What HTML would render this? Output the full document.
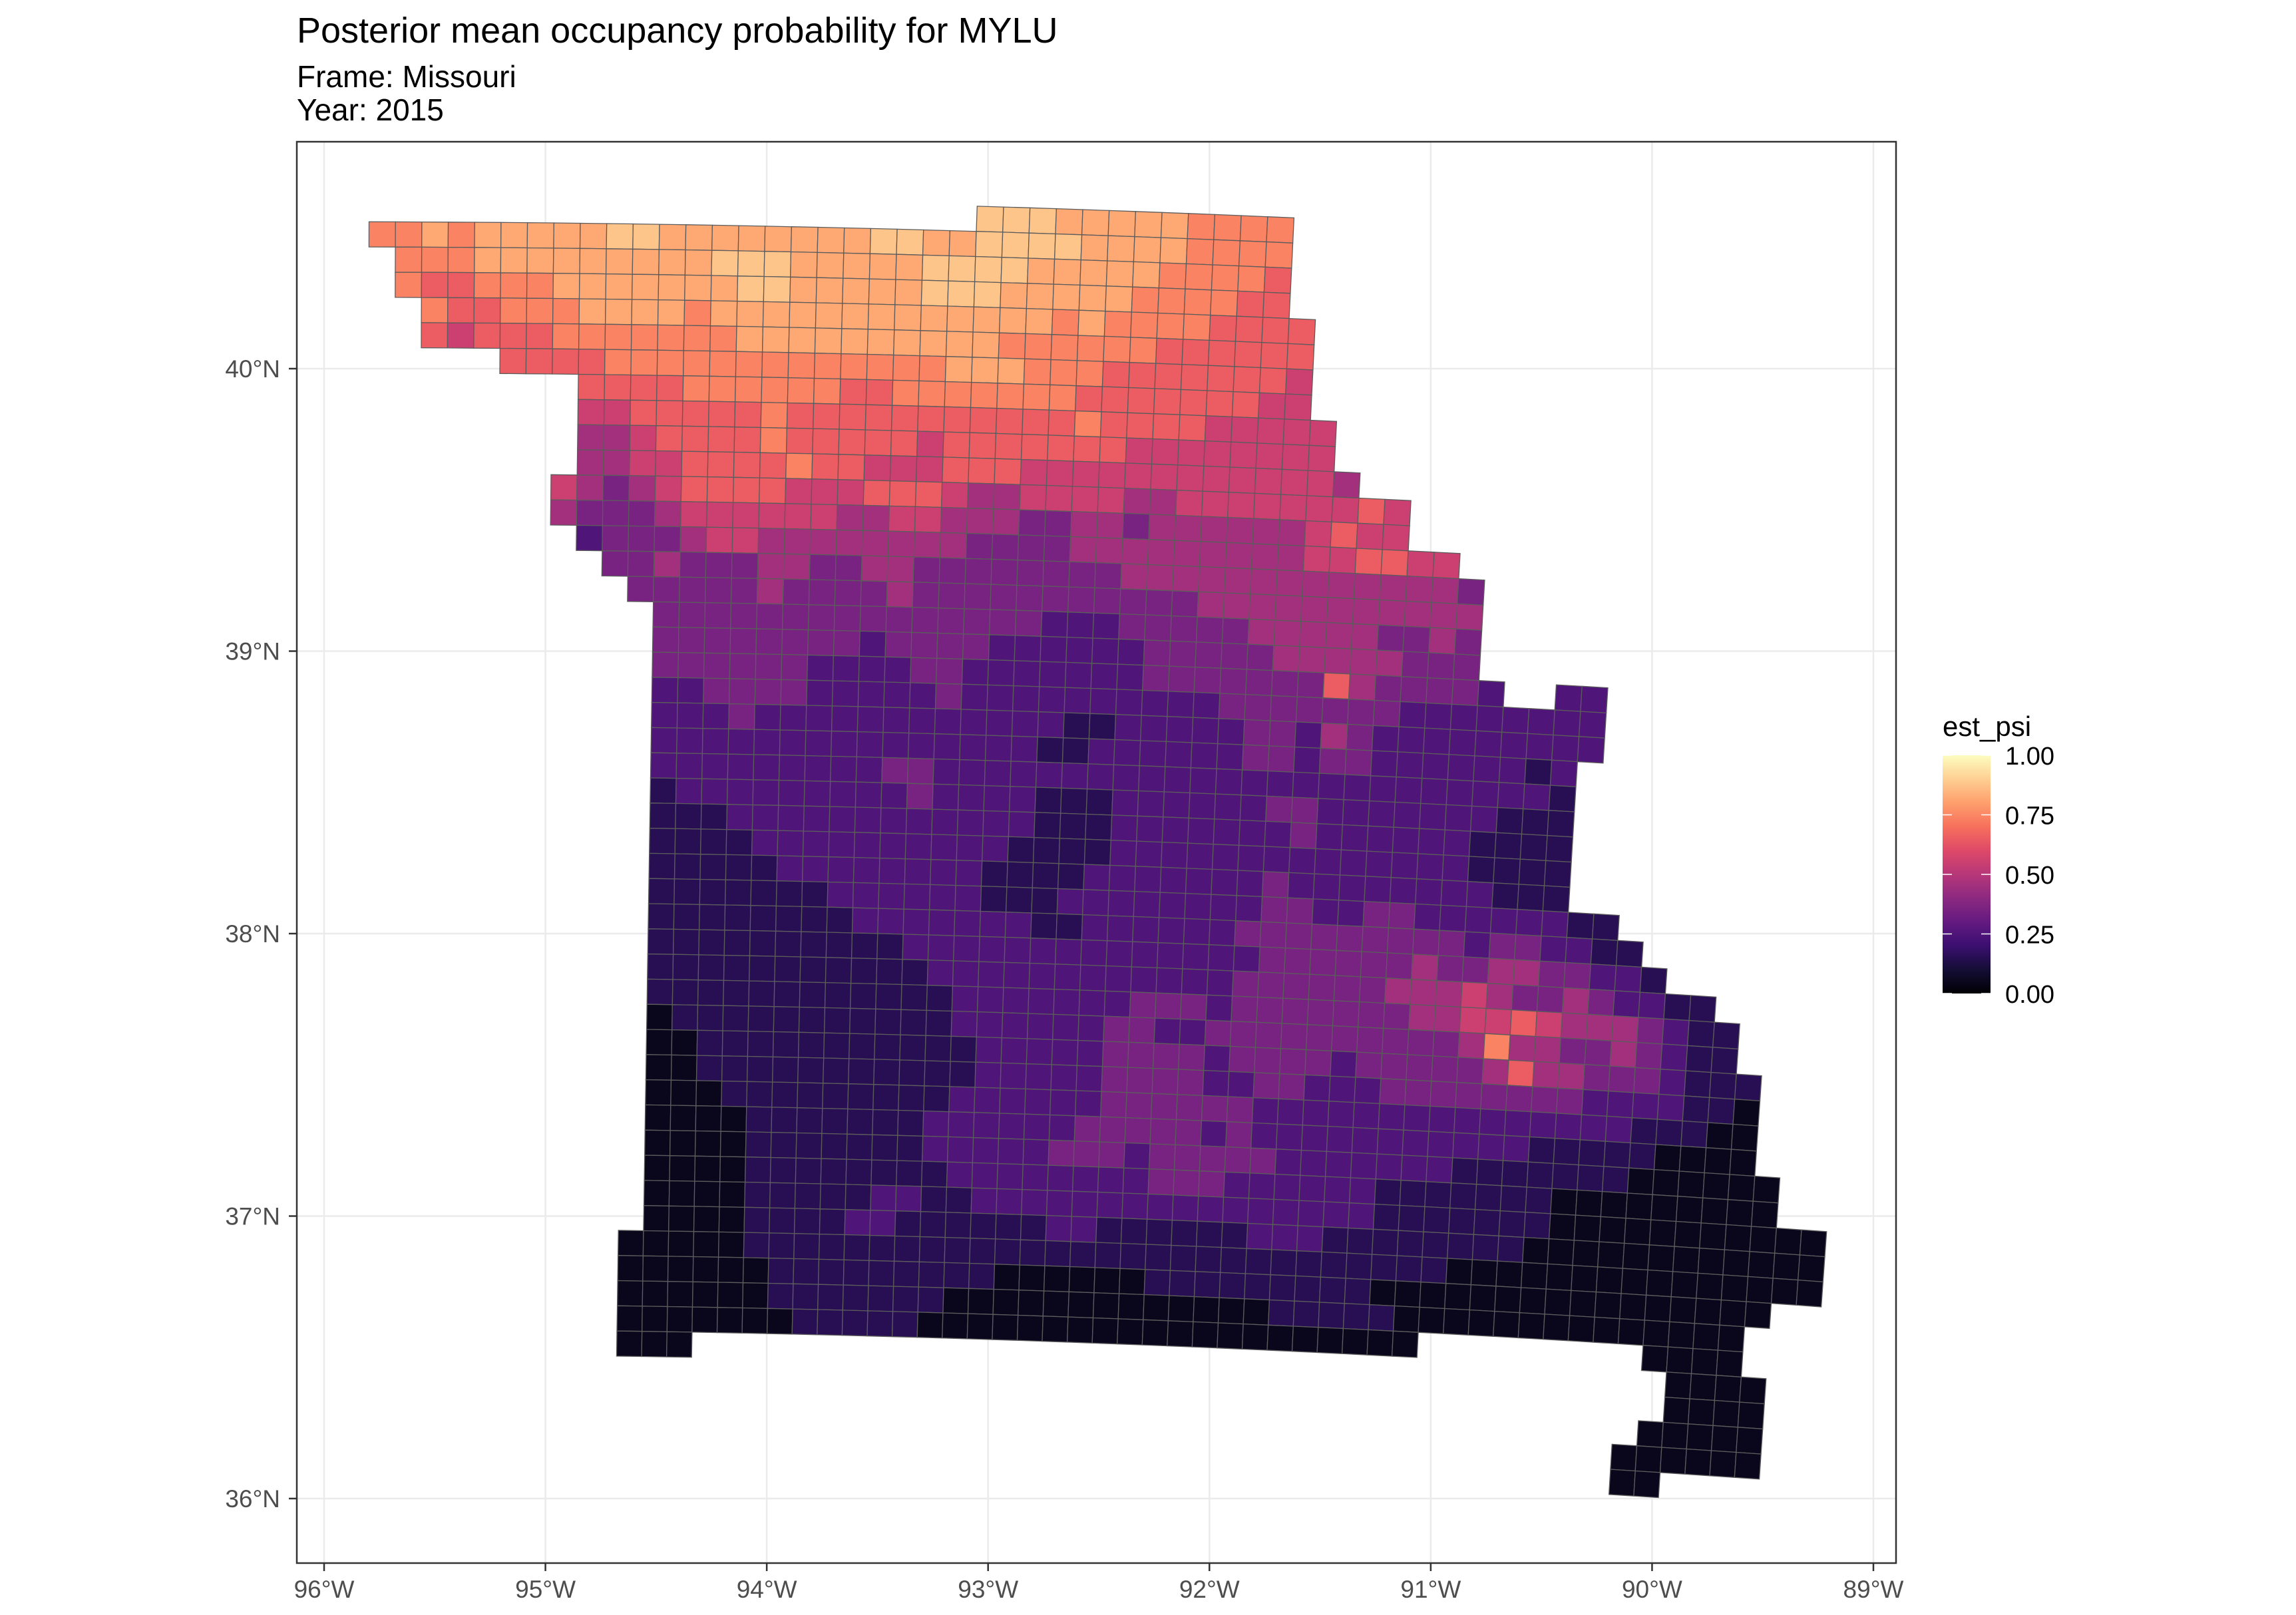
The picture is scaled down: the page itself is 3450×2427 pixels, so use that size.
<!DOCTYPE html>
<html><head><meta charset="utf-8"><title>MYLU occupancy</title>
<style>
html,body{margin:0;padding:0;background:#fff;}
svg{display:block;font-family:"Liberation Sans",Arial,sans-serif;}
</style></head>
<body>
<svg id="chart" xmlns="http://www.w3.org/2000/svg" width="3450" height="2427" viewBox="0 0 3450 2427">
  <rect x="0" y="0" width="3450" height="2427" fill="#ffffff"/>
  <text x="446" y="64" font-size="54" fill="#000">Posterior mean occupancy probability for MYLU</text>
  <text x="446" y="131" font-size="46" fill="#000">Frame: Missouri</text>
  <text x="446" y="181" font-size="46" fill="#000">Year: 2015</text>
  <defs>
    <clipPath id="panelClip"><rect x="446" y="213" width="2403" height="2136"/></clipPath>
    <linearGradient id="magmaGrad" x1="0" y1="1" x2="0" y2="0">
      <stop offset="0" stop-color="#000004"/><stop offset="0.1" stop-color="#140e36"/>
      <stop offset="0.2" stop-color="#3b0f70"/><stop offset="0.3" stop-color="#641a80"/>
      <stop offset="0.4" stop-color="#8c2981"/><stop offset="0.5" stop-color="#b73779"/>
      <stop offset="0.6" stop-color="#de4968"/><stop offset="0.7" stop-color="#f7705c"/>
      <stop offset="0.8" stop-color="#fe9f6d"/><stop offset="0.9" stop-color="#fecf92"/>
      <stop offset="1" stop-color="#fcfdbf"/>
    </linearGradient>
  </defs>
  <g id="gridlines"></g>
  <g id="cells" clip-path="url(#panelClip)"></g>
  <rect x="446" y="213" width="2403" height="2136" fill="none" stroke="#333333" stroke-width="2.5"/>
  <g id="axes"></g>
  <g id="legend">
    <text x="2919" y="1106" font-size="42" fill="#000">est_psi</text>
    <rect x="2919" y="1135" width="72" height="358" fill="url(#magmaGrad)"/>
  </g>
</svg>
<script>
// ---- data ----
const lonTicks = [-96, -95, -94, -93, -92, -91, -90, -89];
const lonTickLabels = ["96°W","95°W","94°W","93°W","92°W","91°W","90°W","89°W"];
const latTicks = [36, 37, 38, 39, 40];
const latTickLabels = ["36°N","37°N","38°N","39°N","40°N"];
const legendTicks = [0, 0.25, 0.5, 0.75, 1];
const legendTickLabels = ["0.00","0.25","0.50","0.75","1.00"];
// est_psi value represented by each digit level
const levelValues = [0.05, 0.15, 0.25, 0.35, 0.45, 0.55, 0.65, 0.74, 0.82, 0.88];
// grid rows (10 km cells): row index, first column, level digits ('.' = no cell)
const rowIds = [-1,0,1,2,3,4,5,6,7,8,9,10,11,12,13,14,15,16,17,18,19,20,21,22,23,24,25,26,27,28,29,30,31,32,33,34,35,36,37,38,39,40,41,42,43,43,44,44,45,46,47,48];
const rowStarts = [23,0,1,1,2,2,5,8,8,8,8,7,7,8,9,10,11,11,11,11,11,11,11,11,11,11,11,11,11,11,11,11,11,11,11,11,11,11,11,11,11,10,10,10,10,51,10,52,52,51,50,50];
const rowVals = [
 "999888887777",
 "7787"+"8888"+"8998888"+"88889988"+"999988"+"887777",
 "777888888"+"8889998888"+"899998888"+"877776",
 "766"+"77788"+"8888899888"+"8899988888"+"777766",
 "7667"+"77888"+"87888888888888878"+"77776666",
 "6566"+"6777777"+"788888888887777"+"77666666",
 "6666"+"777777777777"+"7888777"+"66666665",
 "66667"+"7777766777"+"77776666"+"66655",
 "556"+"6666766666"+"6666667666"+"655555",
 "4456666766"+"6665666666"+"655555555",
 "4455666676"+"6555666555"+"5555555554",
 "5434566665"+"5566654455"+"5544555555565",
 "4333455555"+"5445544433"+"4434444445655",
 "2333455444"+"4444433334"+"44444444556655",
 "3343334433"+"4433333333"+"44444444444443",
 "3333343333"+"4333333333"+"3344444444444",
 "333333333"+"3333332223"+"3333444443343",
 "3333333323"+"3332222223"+"333344444333",
 "3333332222"+"3322222223"+"3333336433332"+".."+"22",
 "2233332222"+"2322222222"+"22333333322222222",
 "2223222222"+"2222221122"+"22233243222222222",
 "2222222222"+"2222211222"+"2223323322222212",
 "2222222223"+"3222222222"+"2222222222222221",
 "1222222222"+"3222211122"+"2222332222222111",
 "1112222222"+"2222211122"+"2222232222221111",
 "1111222222"+"2222111122"+"2222222222221111",
 "1111122222"+"2221111222"+"2222322222222111",
 "1111111222"+"2221112222"+"222233223322222211",
 "1111111122"+"2222211222"+"2223333333"+"332332211",
 "1111111111"+"2222222222"+"2222333333"+"4334433221",
 "1111111111"+"1222222222"+"2223333334"+"445433432211",
 "1111111111"+"1122222223"+"3323333333"+"4455654443211",
 "0111111111"+"1122222233"+"2233333333"+"3347443343211",
 "0011111111"+"1112222233"+"3323333233"+"33346443332111",
 "0011111111"+"1112222233"+"3322332223"+"33333332222110",
 "0001111111"+"1122222233"+"3333222222"+"22222222211100",
 "0000111111"+"1222222333"+"3323222222"+"22222111110000",
 "0000111111"+"1222223332"+"3333322222"+"221111111000000",
 "0000111111"+"1122222222"+"3332222221"+"111111000000000",
 "0000111112"+"2112222222"+"2222222221"+"11111100000000000",
 "0000111122"+"1111112211"+"1111222111"+"11111000000000000",
 "0000011111"+"1111111111"+"1111111111"+"111000000000000000",
 "0000001111"+"1111100000"+"0111111111"+"0000000000000000",
 "0000001111"+"1110000000"+"0000001111"+"100000000000000",
 "0000000111"+"1100000000"+"0000000000"+"00",
 "0000",
 "000",
 "0000",
 "0000",
 "00000",
 "000000",
 "00"
];

// ---- scales ----
const NS = "http://www.w3.org/2000/svg";
function lonToX(lon){ return 487 + (lon + 96) * 332.57; }
function latToY(lat){ return 554 - (lat - 40) * 424.5; }
const xLeft = 446, xRight = 2849, yTop = 213, yBottom = 2349;
const magma = ["#000004","#140e36","#3b0f70","#641a80","#8c2981","#b73779","#de4968","#f7705c","#fe9f6d","#fecf92","#fcfdbf"];
function hex2rgb(h){ return [parseInt(h.substr(1,2),16),parseInt(h.substr(3,2),16),parseInt(h.substr(5,2),16)]; }
function colorFor(v){
  v = Math.max(0, Math.min(1, v));
  const p = v * 10, i = Math.min(9, Math.floor(p)), t = p - i;
  const a = hex2rgb(magma[i]), b = hex2rgb(magma[i+1]);
  return "rgb(" + a.map((x,k)=>Math.round(x + (b[k]-x)*t)).join(",") + ")";
}
// Albers equal-area conic (CONUS)
const D2R = Math.PI/180, R = 6371;
const n = (Math.sin(29.5*D2R) + Math.sin(45.5*D2R)) / 2;
const Cc = Math.cos(29.5*D2R)**2 + 2*n*Math.sin(29.5*D2R);
function fwd(lon, lat){
  const rho = R*Math.sqrt(Cc - 2*n*Math.sin(lat*D2R))/n, th = n*(lon+96)*D2R;
  return [rho*Math.sin(th), rho*Math.cos(th)];
}
function inv(x, y){
  const rho = Math.hypot(x, y), th = Math.atan2(x, y);
  const s = (Cc - (rho*n/R)**2)/(2*n);
  return [-96 + th/n/D2R, Math.asin(s)/D2R];
}
const origin = fwd(-96 + (554.5-487)/332.57, 40 + (554-333.3)/424.5);
const X0 = origin[0], Y0 = origin[1];
function gridPt(c, r){ const ll = inv(X0 + 10*c, Y0 + 10*r); return lonToX(ll[0]).toFixed(1) + "," + latToY(ll[1]).toFixed(1); }

// ---- gridlines ----
const gl = document.getElementById("gridlines");
lonTicks.forEach((lon, i) => {
  const l = document.createElementNS(NS, "line");
  l.setAttribute("x1", lonToX(lon)); l.setAttribute("x2", lonToX(lon));
  l.setAttribute("y1", yTop); l.setAttribute("y2", yBottom);
  l.setAttribute("stroke", "#ebebeb"); l.setAttribute("stroke-width", "2.5");
  
  
  gl.appendChild(l);
});
latTicks.forEach((lat, i) => {
  const l = document.createElementNS(NS, "line");
  l.setAttribute("x1", xLeft); l.setAttribute("x2", xRight);
  l.setAttribute("y1", latToY(lat)); l.setAttribute("y2", latToY(lat));
  l.setAttribute("stroke", "#ebebeb"); l.setAttribute("stroke-width", "2.5");
  
  
  gl.appendChild(l);
});

// ---- cells ----
const cg = document.getElementById("cells");
rowIds.forEach((r, k) => {
  const s = rowVals[k], c0 = rowStarts[k];
  for (let j = 0; j < s.length; j++) {
    const ch = s[j];
    if (ch === ".") continue;
    const c = c0 + j, v = levelValues[parseInt(ch, 10)];
    const p = document.createElementNS(NS, "polygon");
    p.setAttribute("points", [gridPt(c, r), gridPt(c+1, r), gridPt(c+1, r+1), gridPt(c, r+1)].join(" "));
    p.setAttribute("fill", colorFor(v));
    p.setAttribute("stroke", "#5c5c5c"); p.setAttribute("stroke-width", "1.3");
    
    
    cg.appendChild(p);
  }
});

// ---- axes ----
const ax = document.getElementById("axes");
lonTicks.forEach((lon, i) => {
  const x = lonToX(lon);
  const t = document.createElementNS(NS, "line");
  t.setAttribute("x1", x); t.setAttribute("x2", x); t.setAttribute("y1", yBottom); t.setAttribute("y2", yBottom + 12);
  t.setAttribute("stroke", "#333333"); t.setAttribute("stroke-width", "2.5");
  
  
  ax.appendChild(t);
  const tx = document.createElementNS(NS, "text");
  tx.setAttribute("x", x); tx.setAttribute("y", 2401); tx.setAttribute("text-anchor", "middle");
  tx.setAttribute("font-size", "37"); tx.setAttribute("fill", "#4d4d4d");
  tx.textContent = lonTickLabels[i];
  
  
  ax.appendChild(tx);
});
latTicks.forEach((lat, i) => {
  const y = latToY(lat);
  const t = document.createElementNS(NS, "line");
  t.setAttribute("x1", xLeft - 12); t.setAttribute("x2", xLeft); t.setAttribute("y1", y); t.setAttribute("y2", y);
  t.setAttribute("stroke", "#333333"); t.setAttribute("stroke-width", "2.5");
  
  
  ax.appendChild(t);
  const tx = document.createElementNS(NS, "text");
  tx.setAttribute("x", 421); tx.setAttribute("y", y + 13); tx.setAttribute("text-anchor", "end");
  tx.setAttribute("font-size", "37"); tx.setAttribute("fill", "#4d4d4d");
  tx.textContent = latTickLabels[i];
  
  
  ax.appendChild(tx);
});

// ---- legend ----
const lg = document.getElementById("legend");
function legY(v){ return 1493 - v * 358; }
legendTicks.forEach((v, i) => {
  const y = legY(v);
  [[2919, 2933], [2977, 2991]].forEach(seg => {
    const t = document.createElementNS(NS, "line");
    t.setAttribute("x1", seg[0]); t.setAttribute("x2", seg[1]); t.setAttribute("y1", y); t.setAttribute("y2", y);
    t.setAttribute("stroke", "#ffffff"); t.setAttribute("stroke-width", "1.5");
    
    
    lg.appendChild(t);
  });
  const tx = document.createElementNS(NS, "text");
  tx.setAttribute("x", 3013); tx.setAttribute("y", y + 14);
  tx.setAttribute("font-size", "38"); tx.setAttribute("fill", "#000");
  tx.textContent = legendTickLabels[i];
  
  
  lg.appendChild(tx);
});
</script>
</body></html>
